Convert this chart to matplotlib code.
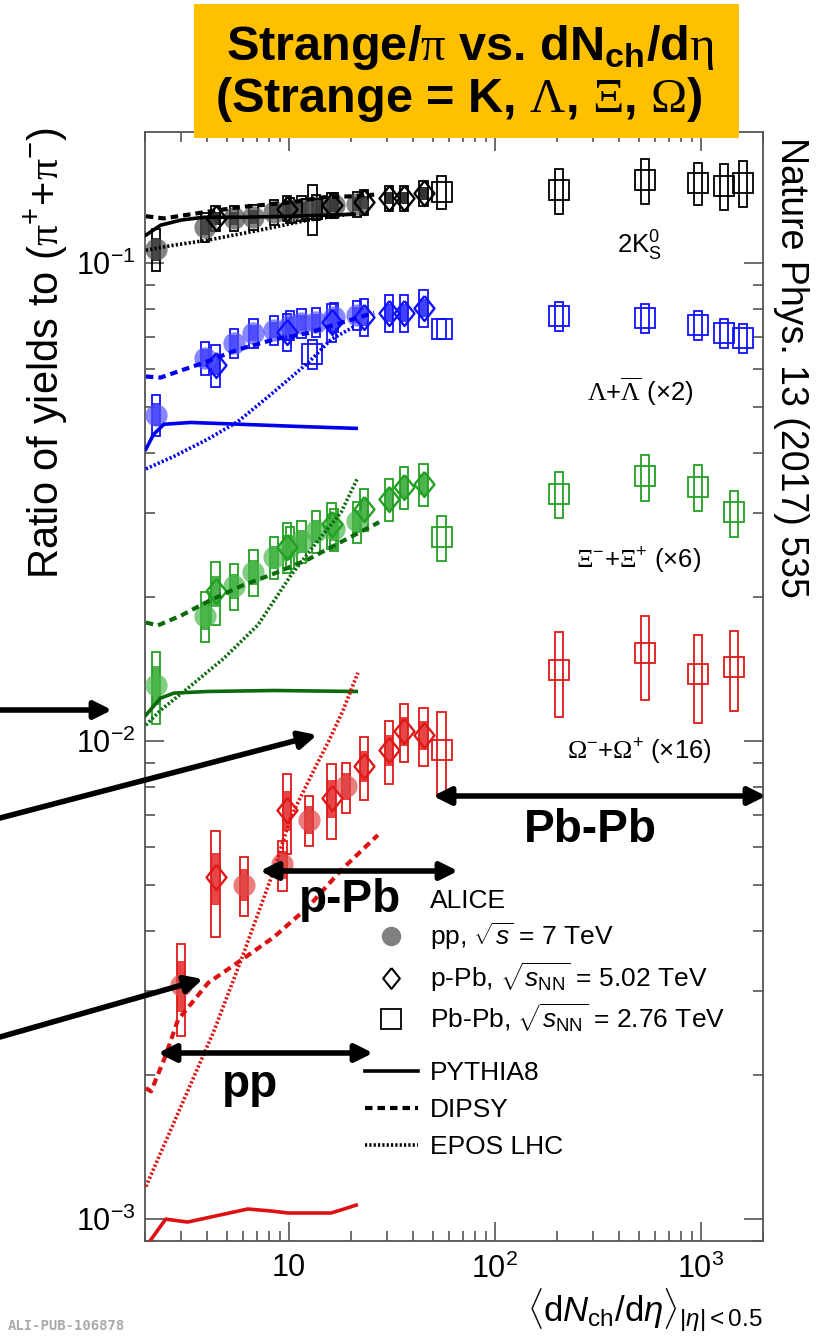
import matplotlib
matplotlib.use('Agg')
import matplotlib.pyplot as plt
from matplotlib.patches import Rectangle, FancyArrowPatch
from matplotlib.lines import Line2D

plt.rcParams['font.family'] = ['Liberation Sans', 'DejaVu Sans']
plt.rcParams['mathtext.fontset'] = 'custom'
plt.rcParams['mathtext.rm'] = 'Liberation Sans'
plt.rcParams['mathtext.it'] = 'Liberation Sans:italic'
plt.rcParams['mathtext.bf'] = 'Liberation Sans:bold'
plt.rcParams['mathtext.cal'] = 'Liberation Serif'
plt.rcParams['mathtext.sf'] = 'Liberation Sans'

# ---------------- data ----------------
x_pp = [2.26, 3.90, 5.40, 6.72, 8.45, 10.1, 11.5, 13.5, 16.5, 21.3]
x_pp_omega = [3.0, 6.06, 9.3, 12.5, 18.9]
x_pPb = [4.4, 9.8, 16.1, 23.2, 30.5, 36.2, 45.0]
x_PbPb_7 = [13, 55, 205, 537, 966, 1294, 1601]
x_PbPb_5 = [55, 205, 537, 966, 1448]

K_pp = [0.107, 0.119, 0.124, 0.125, 0.128, 0.129, 0.130, 0.131, 0.132, 0.133]
K_pPb = [0.124, 0.130, 0.132, 0.134, 0.137, 0.137, 0.140]
K_PbPb = [0.130, 0.141, 0.142, 0.149, 0.147, 0.145, 0.147]
K_pp_err = [0.10, 0.07, 0.06, 0.06, 0.06, 0.06, 0.06, 0.06, 0.06, 0.06]
K_pPb_err = [0.06, 0.06, 0.06, 0.06, 0.06, 0.06, 0.06]
K_PbPb_err = [0.12, 0.08, 0.11, 0.11, 0.10, 0.11, 0.11]

L_pp = [0.0482, 0.0634, 0.0681, 0.0715, 0.0725, 0.0743, 0.0750, 0.0753, 0.0772, 0.0780]
L_pPb = [0.0613, 0.0718, 0.0753, 0.0772, 0.0787, 0.0787, 0.0806]
L_PbPb = [0.0646, 0.0729, 0.0776, 0.0768, 0.0743, 0.0715, 0.0698]
L_pp_err = [0.10, 0.08, 0.07, 0.07, 0.07, 0.07, 0.07, 0.07, 0.07, 0.07]
L_pPb_err = [0.10, 0.09, 0.09, 0.09, 0.09, 0.09, 0.09]
L_PbPb_err = [0.07, 0.05, 0.07, 0.07, 0.07, 0.07, 0.07]

X_pp = [0.0131, 0.0183, 0.0211, 0.0226, 0.0243, 0.0255, 0.0262, 0.0275, 0.0278, 0.0288]
X_pPb = [0.0206, 0.0255, 0.0284, 0.0306, 0.0321, 0.0340, 0.0345]
X_PbPb = [0.0267, 0.0329, 0.0358, 0.0340, 0.0301]
X_pp_err = [0.17, 0.12, 0.11, 0.11, 0.10, 0.10, 0.10, 0.10, 0.10, 0.10]
X_pPb_err = [0.15, 0.12, 0.11, 0.10, 0.10, 0.10, 0.10]
X_PbPb_err = [0.11, 0.11, 0.11, 0.11, 0.11]

O_pp = [0.00309, 0.00501, 0.00552, 0.00685, 0.00805]
O_pPb = [0.00519, 0.00718, 0.00760, 0.00887, 0.00957, 0.0105, 0.0103]
O_PbPb = [0.0096, 0.01406, 0.01525, 0.0138, 0.0143]
O_pp_err = [0.22, 0.14, 0.12, 0.12, 0.12]
O_pPb_err = [0.25, 0.19, 0.18, 0.15, 0.15, 0.14, 0.14]
O_PbPb_err = [0.20, 0.20, 0.20, 0.21, 0.19]

# model curves
K_py_x = [2.02, 2.38, 2.99, 3.86, 5.85, 10.2, 20.7]
K_py_y = [0.1144, 0.120, 0.123, 0.1247, 0.1247, 0.1253, 0.1265]
K_di_x = [2.02, 2.47, 3.86, 5.85, 10.2, 14.8, 20.7, 25.9]
K_di_y = [0.1253, 0.124, 0.1277, 0.131, 0.134, 0.1373, 0.138, 0.139]
K_ep_x = [2.02, 2.76, 4.05, 7.07, 12.4, 20.7]
K_ep_y = [0.1064, 0.109, 0.1117, 0.117, 0.123, 0.127]

L_py_x = [2.02, 2.2, 2.47, 3.33, 5.8, 11.4, 21.2]
L_py_y = [0.0408, 0.0438, 0.046, 0.0464, 0.046, 0.0455, 0.0451]
L_di_x = [2.02, 2.38, 3.86, 5.65, 8.45, 12.4, 17.9, 25.9]
L_di_y = [0.0579, 0.0576, 0.0619, 0.0659, 0.0692, 0.0714, 0.075, 0.0787]
L_ep_x = [2.02, 2.76, 4.03, 5.65, 8.17, 12.4, 16.0, 20.7]
L_ep_y = [0.0371, 0.0394, 0.0428, 0.0466, 0.0531, 0.0619, 0.0692, 0.0736]

X_py_x = [2.02, 2.38, 2.76, 4.05, 8.45, 21.2]
X_py_y = [0.01133, 0.0123, 0.0126, 0.0127, 0.01276, 0.0127]
X_di_x = [2.02, 2.31, 2.99, 4.05, 5.85, 8.45, 12.4, 17.9, 27.4]
X_di_y = [0.0177, 0.01746, 0.0183, 0.0196, 0.0211, 0.0224, 0.024, 0.0261, 0.0287]
X_ep_x = [2.02, 2.38, 3.23, 4.83, 7.07, 10.2, 13.2, 17.9, 21.6]
X_ep_y = [0.0108, 0.0116, 0.0129, 0.0149, 0.0175, 0.0222, 0.0256, 0.0301, 0.0356]

O_py_x = [2.13, 2.52, 3.22, 6.31, 8.17, 9.89, 16.0, 18.5, 21.2]
O_py_y = [0.000904, 0.00100, 0.000986, 0.00105, 0.00104, 0.00103, 0.00103, 0.00105, 0.00107]
O_di_x = [2.02, 2.14, 2.52, 2.89, 4.05, 5.85, 8.45, 12.4, 17.9, 27.0]
O_di_y = [0.00188, 0.00185, 0.0022, 0.00261, 0.00312, 0.00348, 0.00389, 0.0045, 0.00537, 0.00636]
O_ep_x = [2.02, 2.83, 4.33, 5.85, 8.45, 10.2, 13.2, 15.6, 18.3, 21.6]
O_ep_y = [0.00117, 0.00163, 0.00248, 0.00348, 0.00537, 0.00693, 0.00869, 0.0100, 0.0116, 0.0139]

species = [
    dict(col='#000000', line='#000000', circ='#505050',
         pp=(x_pp, K_pp, K_pp_err), ppb=(x_pPb, K_pPb, K_pPb_err), pbpb=(x_PbPb_7, K_PbPb, K_PbPb_err),
         py=(K_py_x, K_py_y), di=(K_di_x, K_di_y), ep=(K_ep_x, K_ep_y)),
    dict(col='#1010ff', line='#0000ee', circ='#5555ff',
         pp=(x_pp, L_pp, L_pp_err), ppb=(x_pPb, L_pPb, L_pPb_err), pbpb=(x_PbPb_7, L_PbPb, L_PbPb_err),
         py=(L_py_x, L_py_y), di=(L_di_x, L_di_y), ep=(L_ep_x, L_ep_y)),
    dict(col='#22a022', line='#0b6b0b', circ='#4cb84c',
         pp=(x_pp, X_pp, X_pp_err), ppb=(x_pPb, X_pPb, X_pPb_err), pbpb=(x_PbPb_5, X_PbPb, X_PbPb_err),
         py=(X_py_x, X_py_y), di=(X_di_x, X_di_y), ep=(X_ep_x, X_ep_y)),
    dict(col='#e01818', line='#dd1111', circ='#e04848',
         pp=(x_pp_omega, O_pp, O_pp_err), ppb=(x_pPb, O_pPb, O_pPb_err), pbpb=(x_PbPb_5, O_PbPb, O_PbPb_err),
         py=(O_py_x, O_py_y), di=(O_di_x, O_di_y), ep=(O_ep_x, O_ep_y)),
]

# ---------------- figure ----------------
W, H = 819, 1337
fig = plt.figure(figsize=(W / 100, H / 100), dpi=100)


def fx(px):
    return px / W


def fy(py):
    return 1 - py / H


ax = fig.add_axes([fx(145), fy(1241), fx(763) - fx(145), fy(132) - fy(1241)])
ax.set_xscale('log')
ax.set_yscale('log')
ax.set_xlim(2, 2000)
ax.set_ylim(9e-4, 0.188)

HW = 0.02  # half width of syst boxes in decades
diamond = [(0, 1), (0.8, 0), (0, -1), (-0.8, 0), (0, 1)]


def draw_boxes(xs, ys, errs, color, filled_frac=None, alpha_fill=0.8):
    for x, y, e in zip(xs, ys, errs):
        x0 = x * 10 ** (-HW)
        x1 = x * 10 ** HW
        ax.add_patch(Rectangle((x0, y * (1 - e)), x1 - x0, 2 * e * y, fill=False,
                               ec=color, lw=1.3, zorder=2))
        if filled_frac:
            ef = e * filled_frac
            ax.add_patch(Rectangle((x0, y * (1 - ef)), x1 - x0, 2 * ef * y, fill=True,
                                   fc=color, ec='none', alpha=alpha_fill, zorder=2))


for s in species:
    xs, ys, es = s['pp']
    draw_boxes(xs, ys, es, s['col'], filled_frac=0.55)
    ax.plot(xs, ys, 'o', ms=16, mfc=s['circ'], mec='none', alpha=0.7, zorder=3)
    xs, ys, es = s['ppb']
    draw_boxes(xs, ys, es, s['col'], filled_frac=0.5)
    ax.plot(xs, ys, marker=diamond, ls='none', ms=18, mfc='none', mec=s['col'], mew=1.7, zorder=3)
    xs, ys, es = s['pbpb']
    draw_boxes(xs, ys, es, s['col'])
    ax.plot(xs, ys, 's', ms=15, mfc='none', mec=s['col'], mew=1.3, zorder=3)
    ax.plot(*s['py'], '-', color=s['line'], lw=2.6, zorder=4)
    ax.plot(*s['di'], color=s['line'], lw=3.0, ls=(0, (1.8, 1.2)), zorder=4)
    ax.plot(*s['ep'], color=s['line'], lw=2.6, ls=(0, (0.6, 0.6)), zorder=4)

# axes styling (ROOT-like)
for sp in ax.spines.values():
    sp.set_color('#555555')
    sp.set_linewidth(1.3)
ax.tick_params(which='both', direction='in', top=True, right=True, color='#555555', width=1.2)
ax.tick_params(which='major', length=14)
ax.tick_params(which='minor', length=7)
ax.tick_params(axis='y', which='major', labelsize=22, pad=7)
ax.tick_params(axis='x', which='major', labelsize=22, pad=9)
ax.set_xticks([10, 100, 1000])
ax.set_xticklabels(['10', '$10^{2}$', '$10^{3}$'])
ax.set_yticks([1e-3, 1e-2, 1e-1])
ax.set_yticklabels(['$10^{-3}$', '$10^{-2}$', '$10^{-1}$'])

# species labels
lab_kw = dict(fontsize=18.5, ha='center', va='center', zorder=5)
ax.text(10 ** (3 + (637 - 699) / 206), 10 ** (-1 - (246 - 263) / 478), r'2K$^{0}_{\mathrm{S}}$', **lab_kw)
ax.text(10 ** (3 + (638 - 699) / 206), 10 ** (-1 - (392 - 263) / 478),
        r'$\mathcal{\Lambda}$+$\overline{\mathcal{\Lambda}}$ (×2)', **lab_kw)
ax.text(10 ** (3 + (637 - 699) / 206), 10 ** (-1 - (561 - 263) / 478),
        r'$\mathcal{\Xi}^{-}$+$\mathcal{\Xi}^{+}$ (×6)', **lab_kw)
ax.text(10 ** (3 + (637 - 699) / 206), 10 ** (-1 - (752 - 263) / 478),
        r'$\mathcal{\Omega}^{-}$+$\mathcal{\Omega}^{+}$ (×16)', **lab_kw)

# legends
fs_leg = 19
h1 = [Line2D([], [], ls='none'),
      Line2D([], [], marker='o', ls='none', ms=14, mfc='#808080', mec='none'),
      Line2D([], [], marker=diamond, ls='none', ms=15, mfc='none', mec='black', mew=1.5),
      Line2D([], [], marker='s', ls='none', ms=14, mfc='none', mec='black', mew=1.3)]
l1 = ['ALICE', r'pp, $\sqrt{s}$ = 7 TeV', r'p-Pb, $\sqrt{s_{\mathrm{NN}}}$ = 5.02 TeV',
      r'Pb-Pb, $\sqrt{s_{\mathrm{NN}}}$ = 2.76 TeV']
leg1 = fig.legend(h1, l1, loc='upper left', bbox_to_anchor=(fx(365), fy(889)), frameon=False,
                  fontsize=fs_leg, borderpad=0, borderaxespad=0, handlelength=2.0,
                  handletextpad=0.45, labelspacing=0.3)
h2 = [Line2D([], [], color='black', lw=2.6),
      Line2D([], [], color='black', lw=3.0, ls=(0, (1.8, 1.2))),
      Line2D([], [], color='black', lw=2.6, ls=(0, (0.6, 0.6)))]
l2 = ['PYTHIA8', 'DIPSY', 'EPOS LHC']
leg2 = fig.legend(h2, l2, loc='upper left', bbox_to_anchor=(fx(365), fy(1061)), frameon=False,
                  fontsize=fs_leg, borderpad=0, borderaxespad=0, handlelength=2.0,
                  handletextpad=0.45, labelspacing=0.5)

# axis labels and side texts
fig.text(fx(46), fy(127), r'Ratio of yields to $(\mathcal{\pi}^{+}\!+\!\mathcal{\pi}^{-})$',
         rotation=90, ha='center', va='top', fontsize=30)
fig.text(fx(763), fy(1321), r'$\langle\mathrm{d}N_{\mathrm{ch}}/\mathrm{d}\eta\rangle_{|\eta|< 0.5}$',
         ha='right', va='baseline', fontsize=25)
fig.text(fx(791), fy(137), 'Nature Phys. 13 (2017) 535', rotation=270, ha='center', va='top',
         fontsize=27)
fig.text(fx(8), fy(1333), 'ALI-PUB-106878', ha='left', va='bottom', fontsize=10,
         color='#aaaaaa', family='DejaVu Sans Mono', weight='bold')

# orange title box
fig.add_artist(Rectangle((fx(194), fy(138)), fx(739) - fx(194), fy(4) - fy(138),
                         transform=fig.transFigure, fc='#FFC000', ec='none', zorder=5))
tkw = dict(ha='center', va='center', fontsize=35, weight='bold', zorder=6)
fig.text(fx(470), fy(48), r'Strange/$\mathcal{\pi}$ vs. dN$_{\mathbf{ch}}$/d$\mathcal{\eta}$', **tkw)
fig.text(fx(459), fy(100), r'(Strange = K, $\mathcal{\Lambda}$, $\mathcal{\Xi}$, $\mathcal{\Omega}$)', **tkw)


# arrows
def arrow(p0, p1, style='-|>'):
    fig.add_artist(FancyArrowPatch((fx(p0[0]), fy(p0[1])), (fx(p1[0]), fy(p1[1])),
                                   transform=fig.transFigure, arrowstyle=style,
                                   mutation_scale=26, lw=4, color='black', zorder=7,
                                   shrinkA=0, shrinkB=0))


arrow((0, 710), (112, 710))
arrow((0, 818), (317, 735))
arrow((0, 1037), (203, 979))
arrow((433, 796), (766, 796), '<|-|>')
arrow((260, 871), (458, 871), '<|-|>')
arrow((158, 1053), (373, 1053), '<|-|>')

bkw = dict(ha='center', va='center', fontsize=33, weight='bold', zorder=7)
fig.text(fx(590), fy(830), 'Pb-Pb', **bkw)
fig.text(fx(350), fy(900), 'p-Pb', **bkw)
fig.text(fx(250), fy(1085), 'pp', **bkw)

fig.savefig('out.png', dpi=100)
